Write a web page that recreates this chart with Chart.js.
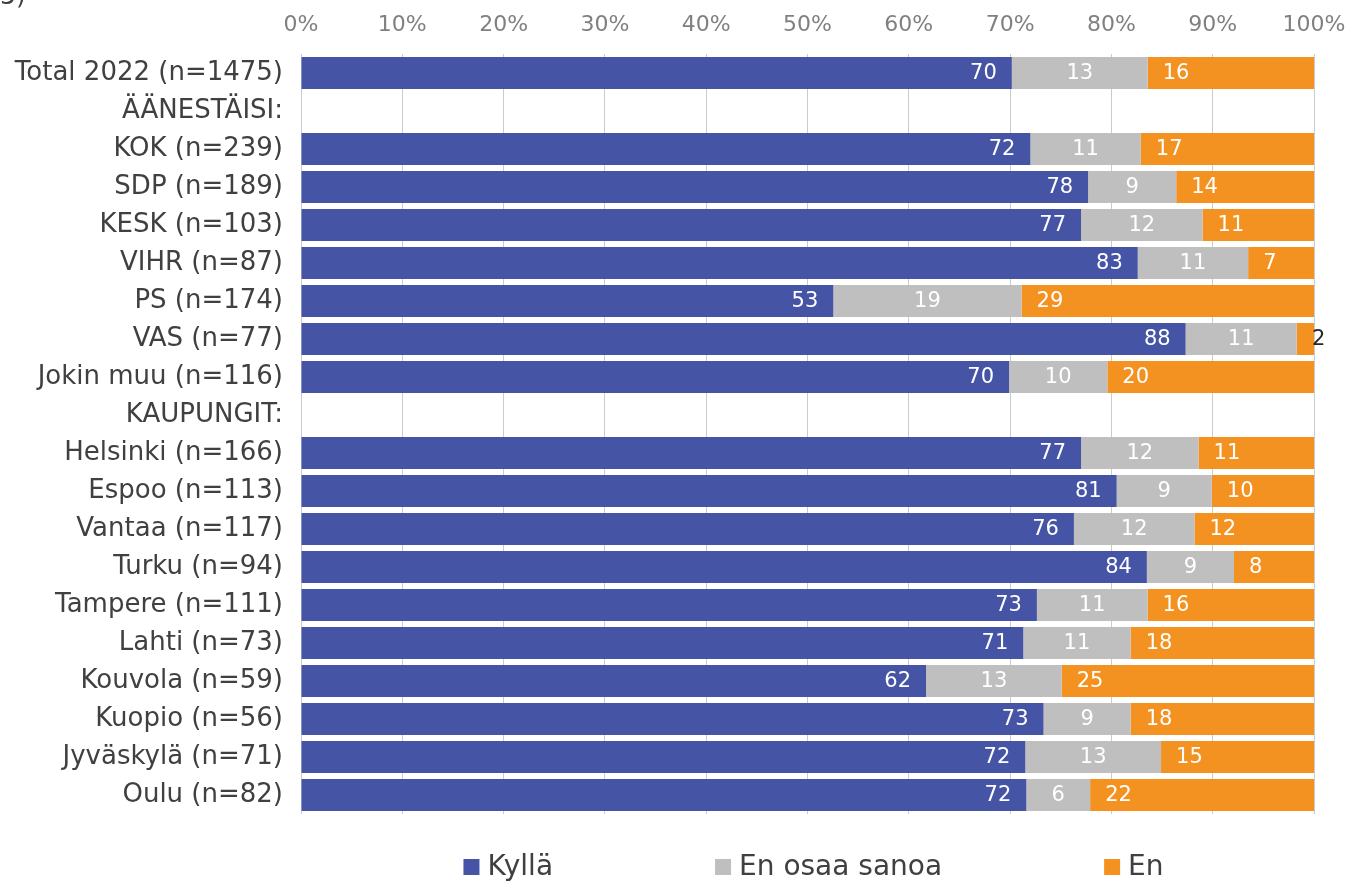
<!DOCTYPE html>
<html>
<head>
<meta charset="utf-8">
<script src="https://cdn.jsdelivr.net/npm/chart.js@4/dist/chart.umd.min.js"></script>
<style>
  html, body { margin: 0; padding: 0; background: #fff; overflow: hidden; }
  #wrap { position: relative; width: 1347px; height: 882px; }
  #cut { position: absolute; left: 0; top: -19px; font: 25px "DejaVu Sans", sans-serif; color: #404040; }
</style>
</head>
<body>
<div id="wrap">
  <div id="cut">5)</div>
  <canvas id="chart"></canvas>
</div>
<script>
// rows, top to bottom
const categories = [
  'Total 2022 (n=1475)', 'ÄÄNESTÄISI:', 'KOK (n=239)', 'SDP (n=189)', 'KESK (n=103)',
  'VIHR (n=87)', 'PS (n=174)', 'VAS (n=77)', 'Jokin muu (n=116)', 'KAUPUNGIT:',
  'Helsinki (n=166)', 'Espoo (n=113)', 'Vantaa (n=117)', 'Turku (n=94)', 'Tampere (n=111)',
  'Lahti (n=73)', 'Kouvola (n=59)', 'Kuopio (n=56)', 'Jyväskylä (n=71)', 'Oulu (n=82)'
];
const seriesNames = ['Kyllä', 'En osaa sanoa', 'En'];
const kylla = [70.1, null, 72.0, 77.7, 77.0, 82.6, 52.6, 87.5, 69.9, null, 77.0, 80.6, 76.3, 83.5, 72.5, 71.3, 61.7, 73.3, 71.5, 71.6];
const enOsaa = [13.4, null, 10.9, 8.7, 12.0, 10.9, 18.6, 11.0, 9.7, null, 11.6, 9.4, 11.9, 8.6, 10.9, 10.6, 13.4, 8.6, 13.4, 6.3];
const en = [16.4, null, 17.1, 13.6, 11.0, 6.5, 28.9, 1.7, 20.4, null, 11.4, 10.1, 11.8, 7.9, 16.4, 18.1, 24.9, 18.1, 15.1, 22.1];
const xTicks = [0, 10, 20, 30, 40, 50, 60, 70, 80, 90, 100];

const colors = ['#4654A5', '#BFBFBF', '#F39220'];
const FONT = '"DejaVu Sans", Verdana, sans-serif';
const raw = [kylla, enOsaa, en];

// 100% stacked: each row scaled to its own sum
const rowSum = categories.map((c, j) => raw.reduce((s, arr) => s + (arr[j] || 0), 0));
const pct = arr => arr.map((v, j) => v == null ? null : v / rowSum[j] * 100);

const barLabels = {
  id: 'barLabels',
  afterDatasetsDraw(chart){
    const ctx = chart.ctx;
    ctx.save();
    ctx.font = '21px ' + FONT;
    ctx.textBaseline = 'middle';
    raw.forEach((arr, i) => {
      const meta = chart.getDatasetMeta(i);
      meta.data.forEach((bar, j) => {
        const v = arr[j];
        if(v == null) return;
        const txt = String(Math.round(v));
        const p = bar.getProps(['x', 'y', 'base'], true);
        const w = p.x - p.base;
        const y = p.y + 1;
        ctx.fillStyle = '#fff';
        if(i === 0){
          ctx.textAlign = 'right';
          ctx.fillText(txt, p.x - 15, y);
        } else if(i === 1){
          ctx.textAlign = 'center';
          ctx.fillText(txt, (p.x + p.base) / 2, y);
        } else if(w < 30){
          // too thin, label sits past the end
          ctx.fillStyle = '#262626';
          ctx.textAlign = 'left';
          ctx.fillText(txt, p.x - 2, y);
        } else {
          ctx.textAlign = 'left';
          ctx.fillText(txt, p.base + 15, y);
        }
      });
    });
    ctx.restore();
  }
};

const bottomLegend = {
  id: 'bottomLegend',
  afterDraw(chart){
    const ctx = chart.ctx, area = chart.chartArea;
    const box = 16, gap = 8, spacing = 162;
    ctx.save();
    ctx.font = '28px ' + FONT;
    const widths = seriesNames.map(t => ctx.measureText(t).width);
    const total = widths.reduce((s, w) => s + box + gap + w, 0) + spacing * (seriesNames.length - 1);
    let x = (area.left + area.right) / 2 + 6 - total / 2;
    const cy = area.bottom + 53;
    ctx.textBaseline = 'middle';
    ctx.textAlign = 'left';
    seriesNames.forEach((t, i) => {
      ctx.fillStyle = colors[i];
      ctx.fillRect(x, cy - box / 2, box, box);
      ctx.fillStyle = '#404040';
      ctx.fillText(t, x + box + gap, cy + 1);
      x += box + gap + widths[i] + spacing;
    });
    ctx.restore();
  }
};

new Chart(document.getElementById('chart'), {
  type: 'bar',
  data: {
    labels: categories,
    datasets: raw.map((arr, i) => ({
      label: seriesNames[i],
      data: pct(arr),
      backgroundColor: colors[i],
      borderWidth: 0,
      barPercentage: 0.84,
      categoryPercentage: 1
    }))
  },
  options: {
    indexAxis: 'y',
    responsive: true,
    maintainAspectRatio: false,
    animation: false,
    layout: { padding: { left: 0, right: 33, top: 0, bottom: 68 } },
    plugins: {
      legend: { display: false },
      tooltip: { enabled: false }
    },
    scales: {
      x: {
        position: 'top',
        stacked: true,
        min: 0,
        max: 100,
        afterBuildTicks: s => { s.ticks = xTicks.map(v => ({ value: v })); },
        afterFit: s => {
          s.height = 54;
          s.paddingLeft = 0;
          s.paddingRight = 0;
        },
        border: { display: false },
        grid: { color: '#CBCBCB', lineWidth: 1, drawTicks: false },
        ticks: {
          padding: 16,
          color: '#808080',
          font: { family: FONT, size: 22 },
          callback: v => v + '%'
        }
      },
      y: {
        stacked: true,
        afterFit: s => { s.width = 301; },
        border: { display: false },
        grid: { display: false, drawTicks: false },
        ticks: {
          padding: 18,
          color: '#404040',
          font: { family: FONT, size: 26 },
          autoSkip: false
        }
      }
    }
  },
  plugins: [barLabels, bottomLegend]
});
</script>
</body>
</html>
